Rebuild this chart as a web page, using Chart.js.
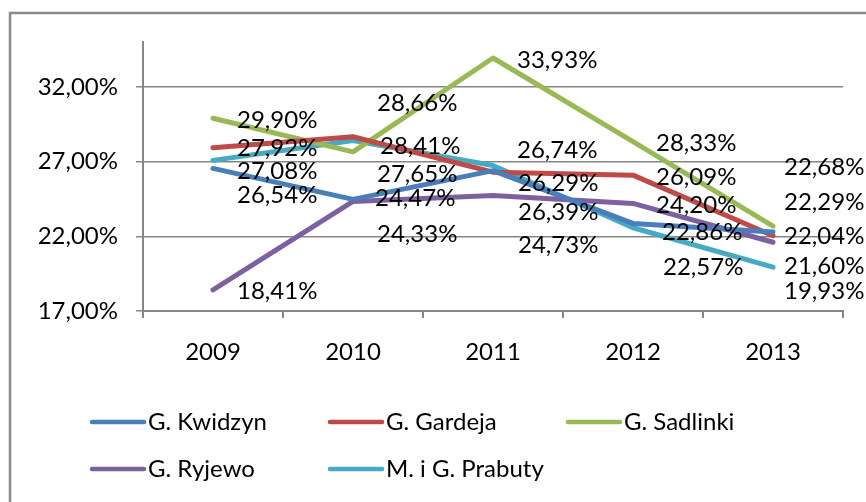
<!DOCTYPE html>
<html>
<head>
<meta charset="utf-8">
<script src="https://cdn.jsdelivr.net/npm/chart.js@4"></script>
<style>
  html, body { margin: 0; padding: 0; background: #ffffff; }
  canvas { display: block; }
</style>
</head>
<body>
<canvas id="c" width="866" height="502"></canvas>
<script>
// ---- data ----
const years = ['2009', '2010', '2011', '2012', '2013'];
const kwidzyn  = [26.54, 24.47, 26.39, 22.86, 22.29];
const gardeja  = [27.92, 28.66, 26.29, 26.09, 22.04];
const sadlinki = [29.90, 27.65, 33.93, 28.33, 22.68];
const ryjewo   = [18.41, 24.33, 24.73, 24.20, 21.60];
const prabuty  = [27.08, 28.41, 26.74, 22.57, 19.93];
const seriesNames = ['G. Kwidzyn', 'G. Gardeja', 'G. Sadlinki', 'G. Ryjewo', 'M. i G. Prabuty'];
const yTicks = [17, 22, 27, 32];

// ---- styling (label nudges in px, not data) ----
const colors = ['#4a7ebb', '#be4b48', '#98b954', '#7d60a0', '#46aac5'];
const labelDY = [
  [27, -1, 42, 9, -30],
  [0, -33, 11, 2, 1],
  [2, 22, 2, 2, -59],
  [1, 33, 50, 2, 24],
  [11, 6, -15, 40, 24]
];
const labelDX = [
  [24, 22, 25, 29, 11],
  [24, 24, 25, 23, 11],
  [24, 24, 24, 23, 11],
  [24, 24, 25, 23, 11],
  [24, 27, 24, 30, 11]
];
const FONT = 'Lato, "Liberation Sans", sans-serif';
const FSIZE = 24;
const GRAY = '#868686';

const fmt = v => v.toFixed(2).replace('.', ',') + '%';

const framePlugin = {
  id: 'frame',
  beforeDraw(chart) {
    const c = chart.ctx;
    c.save();
    c.fillStyle = '#ffffff';
    c.fillRect(0, 0, chart.width, chart.height);
    c.strokeStyle = '#8a8a8a';
    c.lineWidth = 2.5;
    c.beginPath();
    c.moveTo(10, chart.height);
    c.lineTo(10, 13);
    c.lineTo(chart.width, 13);
    c.stroke();
    c.restore();
  }
};

const labelPlugin = {
  id: 'valueLabels',
  afterDatasetsDraw(chart) {
    const c = chart.ctx;
    c.save();
    c.font = FSIZE + 'px ' + FONT;
    c.fillStyle = '#000000';
    c.textAlign = 'left';
    c.textBaseline = 'middle';
    chart.data.datasets.forEach((ds, si) => {
      const meta = chart.getDatasetMeta(si);
      meta.data.forEach((pt, i) => {
        c.fillText(fmt(ds.data[i]), pt.x + labelDX[si][i], pt.y + labelDY[si][i]);
      });
    });
    c.restore();
  }
};

const legendPlugin = {
  id: 'customLegend',
  afterDraw(chart) {
    const c = chart.ctx;
    const cols = [91, 329, 567];
    const rows = [422, 469];
    c.save();
    c.font = FSIZE + 'px ' + FONT;
    c.textAlign = 'left';
    c.textBaseline = 'middle';
    chart.data.datasets.forEach((ds, i) => {
      const x = cols[i % 3];
      const y = rows[Math.floor(i / 3)];
      c.strokeStyle = ds.borderColor;
      c.lineWidth = 4.5;
      c.lineCap = 'round';
      c.beginPath();
      c.moveTo(x + 1, y);
      c.lineTo(x + 53, y);
      c.stroke();
      c.fillStyle = '#000000';
      c.fillText(ds.label, x + 57, y);
    });
    c.restore();
  }
};

const allSeries = [kwidzyn, gardeja, sadlinki, ryjewo, prabuty];

new Chart(document.getElementById('c'), {
  type: 'line',
  data: {
    labels: years,
    datasets: allSeries.map((d, i) => ({
      label: seriesNames[i],
      data: d,
      borderColor: colors[i],
      backgroundColor: colors[i],
      borderWidth: 5,
      pointRadius: 0,
      tension: 0,
      borderJoinStyle: 'round',
      borderCapStyle: 'round'
    }))
  },
  options: {
    responsive: false,
    animation: false,
    layout: { padding: { left: 0, top: 42, right: 23, bottom: 131 } },
    plugins: {
      legend: { display: false },
      tooltip: { enabled: false }
    },
    scales: {
      x: {
        offset: true,
        afterFit(s) { s.height = 60; },
        grid: { drawOnChartArea: false, drawTicks: true, tickLength: 7, color: GRAY, lineWidth: 2, offset: true },
        border: { display: true, color: GRAY, width: 2 },
        ticks: { color: '#000', font: { family: FONT, size: FSIZE }, padding: 20, maxRotation: 0 }
      },
      y: {
        min: 17,
        max: 35,
        afterFit(s) { s.width = 143; },
        afterBuildTicks(s) { s.ticks = yTicks.map(v => ({ value: v })); },
        grid: { color: GRAY, lineWidth: 1.5, tickLength: 7, drawTicks: true },
        border: { display: true, color: GRAY, width: 2 },
        ticks: {
          color: '#000',
          font: { family: FONT, size: FSIZE },
          padding: 18,
          callback: v => v.toFixed(2).replace('.', ',') + '%'
        }
      }
    }
  },
  plugins: [framePlugin, labelPlugin, legendPlugin]
});
</script>
</body>
</html>
